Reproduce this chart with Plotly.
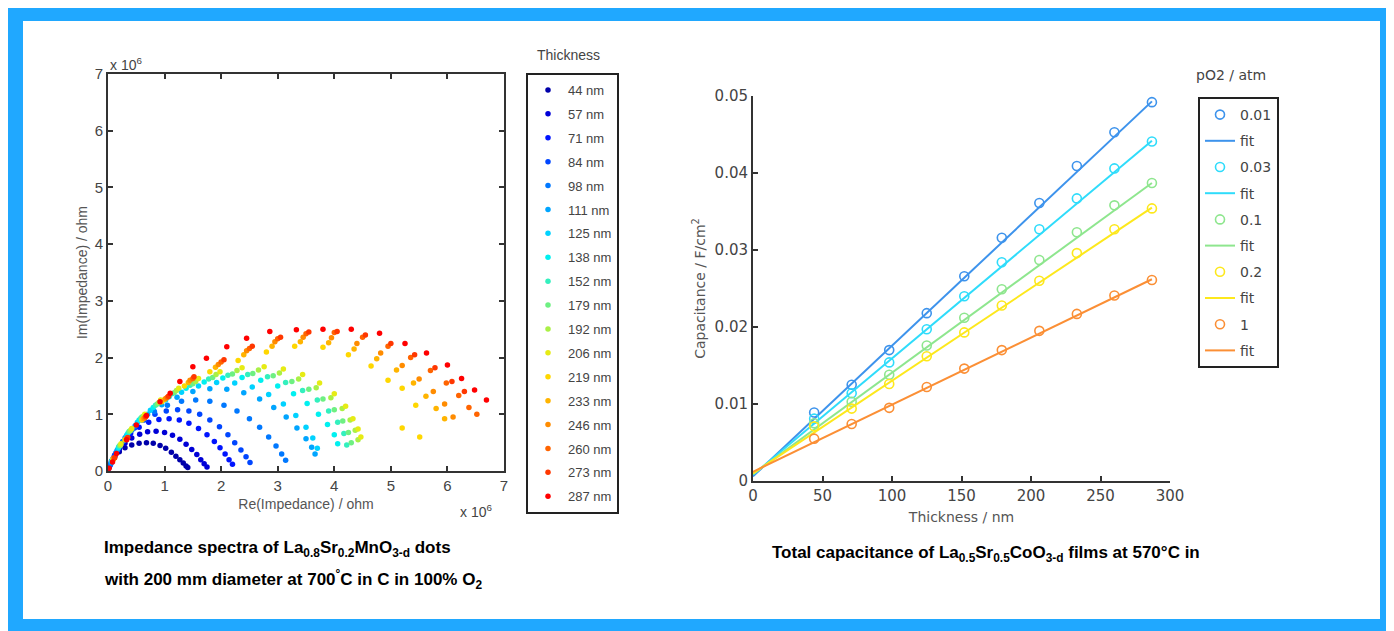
import plotly.graph_objects as go

W, H = 1394, 631
OFF = 8  # the page body has an 8 px margin; place everything relative to the visible window

# ---------------- Left chart data (Re/Im impedance, units of 1e6 ohm) ----------------
thickness_labels = ["44 nm", "57 nm", "71 nm", "84 nm", "98 nm", "111 nm", "125 nm", "138 nm",
                    "152 nm", "179 nm", "192 nm", "206 nm", "219 nm", "233 nm", "246 nm",
                    "260 nm", "273 nm", "287 nm"]

re_44 = [0.01, 0.03, 0.07, 0.12, 0.2, 0.3, 0.42, 0.55, 0.68, 0.8, 0.92, 1.02, 1.12, 1.2, 1.27, 1.33, 1.38, 1.41]
im_44 = [0.04, 0.1, 0.18, 0.26, 0.34, 0.41, 0.46, 0.49, 0.5, 0.49, 0.45, 0.4, 0.33, 0.26, 0.2, 0.14, 0.09, 0.06]
re_57 = [0.02, 0.06, 0.12, 0.2, 0.3, 0.42, 0.56, 0.7, 0.85, 1.0, 1.14, 1.27, 1.38, 1.48, 1.57, 1.64, 1.7, 1.75]
im_57 = [0.07, 0.17, 0.28, 0.39, 0.49, 0.58, 0.65, 0.69, 0.7, 0.68, 0.63, 0.56, 0.47, 0.38, 0.29, 0.2, 0.13, 0.07]
re_71 = [0.03, 0.09, 0.17, 0.27, 0.4, 0.55, 0.72, 0.9, 1.08, 1.26, 1.43, 1.6, 1.75, 1.88, 1.98, 2.07, 2.14, 2.2]
im_71 = [0.09, 0.22, 0.37, 0.52, 0.66, 0.77, 0.86, 0.91, 0.92, 0.9, 0.84, 0.75, 0.64, 0.52, 0.41, 0.3, 0.2, 0.12]
re_84 = [0.04, 0.11, 0.2, 0.32, 0.47, 0.64, 0.83, 1.03, 1.23, 1.43, 1.62, 1.8, 1.97, 2.12, 2.24, 2.35, 2.44, 2.51]
im_84 = [0.11, 0.26, 0.43, 0.6, 0.76, 0.9, 1.0, 1.06, 1.08, 1.06, 1.0, 0.9, 0.78, 0.64, 0.5, 0.37, 0.25, 0.15]
re_98 = [0.05, 0.14, 0.26, 0.42, 0.6, 0.82, 1.05, 1.3, 1.55, 1.8, 2.05, 2.28, 2.5, 2.68, 2.84, 2.97, 3.07, 3.14]
im_98 = [0.13, 0.32, 0.52, 0.72, 0.9, 1.05, 1.16, 1.23, 1.25, 1.23, 1.16, 1.06, 0.92, 0.77, 0.6, 0.44, 0.3, 0.19]
re_111 = [0.06, 0.16, 0.3, 0.48, 0.7, 0.95, 1.22, 1.5, 1.8, 2.1, 2.4, 2.68, 2.93, 3.15, 3.34, 3.5, 3.6, 3.66]
im_111 = [0.15, 0.36, 0.58, 0.8, 1.0, 1.17, 1.3, 1.4, 1.45, 1.44, 1.38, 1.27, 1.12, 0.95, 0.76, 0.57, 0.42, 0.3]
re_125 = [0.07, 0.18, 0.33, 0.52, 0.75, 1.02, 1.3, 1.6, 1.92, 2.24, 2.55, 2.84, 3.1, 3.32, 3.5, 3.62, 3.7]
im_125 = [0.17, 0.4, 0.63, 0.86, 1.07, 1.25, 1.39, 1.5, 1.56, 1.55, 1.48, 1.35, 1.18, 0.98, 0.77, 0.58, 0.4]
re_138 = [0.07, 0.19, 0.35, 0.55, 0.8, 1.08, 1.38, 1.7, 2.03, 2.37, 2.7, 3.0, 3.28, 3.52, 3.72, 3.88, 4.0, 4.06]
im_138 = [0.18, 0.42, 0.66, 0.9, 1.12, 1.31, 1.46, 1.57, 1.64, 1.65, 1.6, 1.5, 1.36, 1.19, 1.0, 0.82, 0.64, 0.48]
re_152 = [0.08, 0.2, 0.37, 0.58, 0.84, 1.13, 1.45, 1.78, 2.12, 2.47, 2.82, 3.14, 3.44, 3.7, 3.9, 4.06, 4.17, 4.22]
im_152 = [0.19, 0.44, 0.69, 0.93, 1.16, 1.36, 1.51, 1.62, 1.69, 1.7, 1.66, 1.56, 1.42, 1.25, 1.06, 0.86, 0.66, 0.46]
re_179 = [0.08, 0.21, 0.38, 0.6, 0.87, 1.17, 1.5, 1.85, 2.2, 2.56, 2.92, 3.25, 3.55, 3.8, 4.0, 4.15, 4.25, 4.3]
im_179 = [0.2, 0.45, 0.7, 0.95, 1.18, 1.38, 1.54, 1.65, 1.71, 1.72, 1.68, 1.58, 1.44, 1.27, 1.08, 0.88, 0.68, 0.5]
re_192 = [0.09, 0.22, 0.4, 0.63, 0.9, 1.21, 1.55, 1.91, 2.28, 2.66, 3.03, 3.37, 3.68, 3.94, 4.14, 4.28, 4.37, 4.42]
im_192 = [0.2, 0.46, 0.72, 0.97, 1.21, 1.42, 1.58, 1.7, 1.77, 1.78, 1.73, 1.62, 1.47, 1.29, 1.1, 0.9, 0.72, 0.55]
re_206 = [0.09, 0.23, 0.42, 0.65, 0.93, 1.25, 1.6, 1.98, 2.37, 2.76, 3.1, 3.44, 3.74, 4.0, 4.2, 4.33, 4.42, 4.47]
im_206 = [0.21, 0.48, 0.75, 1.0, 1.25, 1.46, 1.63, 1.75, 1.82, 1.84, 1.8, 1.7, 1.55, 1.36, 1.14, 0.92, 0.74, 0.6]
re_219 = [0.1, 0.3, 0.6, 0.95, 1.35, 1.8, 2.3, 2.8, 3.3, 3.8, 4.25, 4.65, 4.95, 5.2, 5.44, 5.2, 5.51]
im_219 = [0.22, 0.55, 0.9, 1.22, 1.5, 1.75, 1.95, 2.1, 2.2, 2.18, 2.05, 1.85, 1.6, 1.46, 1.16, 0.76, 0.6]
re_233 = [0.1, 0.32, 0.62, 1.0, 1.42, 1.9, 2.4, 2.9, 3.4, 3.9, 4.35, 4.75, 5.1, 5.4, 5.62, 5.8, 5.95]
im_233 = [0.22, 0.56, 0.92, 1.26, 1.56, 1.83, 2.05, 2.2, 2.28, 2.26, 2.15, 1.98, 1.78, 1.55, 1.32, 1.1, 0.92]
re_246 = [0.11, 0.33, 0.64, 1.02, 1.45, 1.95, 2.45, 2.95, 3.45, 3.95, 4.4, 4.82, 5.2, 5.5, 5.75, 5.95, 6.1]
im_246 = [0.23, 0.57, 0.93, 1.28, 1.6, 1.88, 2.12, 2.28, 2.36, 2.35, 2.25, 2.08, 1.86, 1.62, 1.4, 1.18, 0.95]
re_260 = [0.11, 0.34, 0.66, 1.05, 1.5, 2.0, 2.5, 3.0, 3.5, 4.0, 4.5, 4.95, 5.35, 5.7, 5.98, 6.2, 6.38, 6.52]
im_260 = [0.23, 0.58, 0.95, 1.3, 1.63, 1.92, 2.16, 2.33, 2.42, 2.44, 2.36, 2.2, 2.0, 1.77, 1.55, 1.33, 1.12, 1.0]
re_273 = [0.12, 0.35, 0.67, 1.07, 1.52, 2.05, 2.55, 3.05, 3.55, 4.05, 4.55, 5.0, 5.42, 5.78, 6.08, 6.3]
im_273 = [0.24, 0.59, 0.96, 1.32, 1.66, 1.96, 2.2, 2.36, 2.45, 2.46, 2.4, 2.25, 2.05, 1.82, 1.58, 1.4]
re_287 = [0.02, 0.08, 0.15, 0.33, 0.5, 0.68, 0.92, 1.1, 1.27, 1.5, 1.74, 2.1, 2.45, 2.86, 3.33, 3.8, 4.3, 4.8, 5.25, 5.63, 6.0, 6.25, 6.48, 6.69]
im_287 = [0.05, 0.16, 0.31, 0.55, 0.81, 0.98, 1.22, 1.37, 1.58, 1.84, 1.99, 2.19, 2.34, 2.46, 2.49, 2.5, 2.5, 2.43, 2.25, 2.08, 1.87, 1.63, 1.43, 1.25]

re_series = [re_44, re_57, re_71, re_84, re_98, re_111, re_125, re_138, re_152, re_179,
             re_192, re_206, re_219, re_233, re_246, re_260, re_273, re_287]
im_series = [im_44, im_57, im_71, im_84, im_98, im_111, im_125, im_138, im_152, im_179,
             im_192, im_206, im_219, im_233, im_246, im_260, im_273, im_287]

jet_colors = ["rgb(0,0,170)", "rgb(0,0,215)", "rgb(0,20,255)", "rgb(0,70,255)", "rgb(0,120,255)",
              "rgb(0,165,255)", "rgb(0,210,255)", "rgb(0,240,240)", "rgb(51,240,190)",
              "rgb(110,240,130)", "rgb(170,240,70)", "rgb(230,235,20)", "rgb(255,215,0)",
              "rgb(255,180,0)", "rgb(255,140,0)", "rgb(255,100,0)", "rgb(255,55,0)", "rgb(255,0,0)"]

# ---------------- Right chart data (capacitance vs thickness) ----------------
thickness_nm = [44, 71, 98, 125, 152, 179, 206, 233, 260, 287]
po2_labels = ["0.01", "0.03", "0.1", "0.2", "1"]
cap_001 = [0.0089, 0.0125, 0.0170, 0.0218, 0.0266, 0.0316, 0.0361, 0.0409, 0.0453, 0.0492]
cap_003 = [0.0081, 0.0114, 0.0154, 0.0197, 0.0240, 0.0284, 0.0327, 0.0367, 0.0406, 0.0441]
cap_01 = [0.0075, 0.0103, 0.0138, 0.0176, 0.0212, 0.0249, 0.0287, 0.0323, 0.0358, 0.0387]
cap_02 = [0.0071, 0.0094, 0.0126, 0.0162, 0.0193, 0.0228, 0.0260, 0.0296, 0.0327, 0.0354]
cap_1 = [0.0055, 0.0074, 0.0095, 0.0122, 0.0146, 0.0170, 0.0195, 0.0217, 0.0241, 0.0261]
fit_x = [0, 287]
fit_001 = [0.0006, 0.0493]
fit_003 = [0.0008, 0.0442]
fit_01 = [0.0009, 0.0387]
fit_02 = [0.0010, 0.0355]
fit_1 = [0.0012, 0.0262]

cap_series = [cap_001, cap_003, cap_01, cap_02, cap_1]
fit_series = [fit_001, fit_003, fit_01, fit_02, fit_1]
po2_colors = ["#3d93ec", "#2fdcfb", "#8ee68e", "#fde81c", "#fb8f35"]

fig = go.Figure()

for lbl, rx, iy, col in zip(thickness_labels, re_series, im_series, jet_colors):
    fig.add_trace(go.Scatter(
        x=rx, y=iy, mode="markers", name=lbl, legend="legend", legendgroup=lbl,
        marker=dict(color=col, size=5.5, line=dict(width=0)),
        xaxis="x", yaxis="y", showlegend=True))

for lbl, cap, fit, col in zip(po2_labels, cap_series, fit_series, po2_colors):
    fig.add_trace(go.Scatter(
        x=thickness_nm, y=cap, mode="markers", name=lbl, legend="legend2", legendgroup=lbl + "m",
        marker=dict(symbol="circle-open", color=col, size=9, line=dict(width=1.6, color=col)),
        xaxis="x2", yaxis="y2"))
    fig.add_trace(go.Scatter(
        x=fit_x, y=fit, mode="lines", name="fit", legend="legend2", legendgroup=lbl + "f",
        line=dict(color=col, width=2), xaxis="x2", yaxis="y2"))

def px(x):
    return (x - OFF) / W

def py(y):
    return 1 - (y - OFF) / H

tickfont_l = dict(family="Liberation Sans, Arial", size=15, color="#444")
tickfont_r = dict(family="DejaVu Sans", size=15, color="#444")

fig.update_layout(
    width=W, height=H,
    margin=dict(l=0, r=0, t=0, b=0, pad=0, autoexpand=False),
    paper_bgcolor="#20a8ff",
    plot_bgcolor="white",
    showlegend=True,
    xaxis=dict(domain=[px(108), px(504)], range=[0, 7], tickvals=[0, 1, 2, 3, 4, 5, 6, 7],
               showline=True, mirror="ticks", linecolor="#333", linewidth=2,
               ticks="inside", ticklen=5, tickwidth=2, tickcolor="#333", showgrid=False,
               zeroline=False, tickfont=tickfont_l, anchor="y", automargin=False,
               title=dict(text="Re(Impedance) / ohm", standoff=6,
                          font=dict(family="Liberation Sans, Arial", size=14, color="#555"))),
    yaxis=dict(domain=[py(471), py(74)], range=[0, 7], tickvals=[0, 1, 2, 3, 4, 5, 6, 7],
               showline=True, mirror="ticks", linecolor="#333", linewidth=2,
               ticks="inside", ticklen=5, tickwidth=2, tickcolor="#333", showgrid=False,
               zeroline=False, tickfont=tickfont_l, anchor="x", automargin=False,
               title=dict(text="Im(Impedance) / ohm", standoff=4,
                          font=dict(family="Liberation Sans, Arial", size=14, color="#555"))),
    xaxis2=dict(domain=[px(753), px(1170)], range=[0, 300], tickvals=[0, 50, 100, 150, 200, 250, 300],
                showline=True, mirror=False, linecolor="#333", linewidth=2,
                ticks="inside", ticklen=5, tickwidth=2, tickcolor="#333", showgrid=False,
                zeroline=False, tickfont=tickfont_r, anchor="y2", automargin=False,
                title=dict(text="Thickness / nm", standoff=8,
                           font=dict(family="DejaVu Sans", size=14, color="#555"))),
    yaxis2=dict(domain=[py(481), py(96)], range=[0, 0.05],
                tickvals=[0, 0.01, 0.02, 0.03, 0.04, 0.05],
                ticktext=["0", "0.01", "0.02", "0.03", "0.04", "0.05"],
                showline=True, mirror=False, linecolor="#333", linewidth=2,
                ticks="inside", ticklen=5, tickwidth=2, tickcolor="#333", showgrid=False,
                zeroline=False, tickfont=tickfont_r, anchor="x2", automargin=False,
                title=dict(text="Capacitance / F/cm<sup>2</sup>", standoff=6,
                           font=dict(family="DejaVu Sans", size=14, color="#555"))),
    legend=dict(x=px(526), y=py(73), xanchor="left", yanchor="top",
                bgcolor="white", bordercolor="#222", borderwidth=2,
                font=dict(family="Liberation Sans, Arial", size=13, color="#444"),
                traceorder="grouped", tracegroupgap=4, itemwidth=30),
    legend2=dict(x=px(1198), y=py(97), xanchor="left", yanchor="top",
                 bgcolor="white", bordercolor="#222", borderwidth=2,
                 font=dict(family="DejaVu Sans", size=14, color="#444"),
                 traceorder="grouped", tracegroupgap=5, itemwidth=30),
    shapes=[
        dict(type="rect", xref="paper", yref="paper", x0=px(23), x1=px(1380), y0=py(619), y1=py(21),
             fillcolor="white", line=dict(width=0), layer="below"),
    ],
    annotations=[
        dict(text="x 10<sup>6</sup>", x=px(108), y=py(64), xref="paper", yref="paper",
             xanchor="left", yanchor="middle", showarrow=False,
             font=dict(family="Liberation Sans, Arial", size=14, color="#444")),
        dict(text="x 10<sup>6</sup>", x=px(458), y=py(511), xref="paper", yref="paper",
             xanchor="left", yanchor="middle", showarrow=False,
             font=dict(family="Liberation Sans, Arial", size=14, color="#444")),
        dict(text="Thickness", x=px(568), y=py(55), xref="paper", yref="paper",
             xanchor="center", yanchor="middle", showarrow=False,
             font=dict(family="Liberation Sans, Arial", size=14, color="#444")),
        dict(text="pO2 / atm", x=px(1231), y=py(75), xref="paper", yref="paper",
             xanchor="center", yanchor="middle", showarrow=False,
             font=dict(family="DejaVu Sans", size=14, color="#444")),
        dict(text="<b>Impedance spectra of La<sub>0.8</sub>Sr<sub>0.2</sub>MnO<sub>3-d</sub> dots</b>",
             x=px(102), y=py(549), xref="paper", yref="paper", xanchor="left", yanchor="middle",
             showarrow=False, font=dict(family="Liberation Sans, Arial", size=17, color="black")),
        dict(text="<b>with 200 mm diameter at 700<sup>°</sup>C in C in 100% O<sub>2</sub></b>",
             x=px(102), y=py(579), xref="paper", yref="paper", xanchor="left", yanchor="middle",
             showarrow=False, font=dict(family="Liberation Sans, Arial", size=17, color="black")),
        dict(text="<b>Total capacitance of La<sub>0.5</sub>Sr<sub>0.5</sub>CoO<sub>3-d</sub> films at 570°C in</b>",
             x=px(986), y=py(554), xref="paper", yref="paper", xanchor="center", yanchor="middle",
             showarrow=False, font=dict(family="Liberation Sans, Arial", size=17, color="black")),
    ],
)

fig.write_html("out.html")
